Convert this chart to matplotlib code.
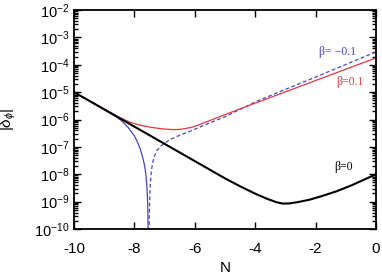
import numpy as np
import matplotlib
matplotlib.use("Agg")
import matplotlib.pyplot as plt
from matplotlib.ticker import LogLocator, NullFormatter, MultipleLocator

plt.rcParams['font.family'] = 'Liberation Sans'
plt.rcParams['mathtext.fontset'] = 'custom'
plt.rcParams['mathtext.rm'] = 'Liberation Sans'
plt.rcParams['mathtext.it'] = 'Liberation Sans:italic'
plt.rcParams['axes.unicode_minus'] = False

# beta = 0 (log10 |delta_phi|)
n_b0 = [-10, -9, -8, -7, -6, -5, -4.5, -4.0, -3.6, -3.3, -3.1, -2.9, -2.6, -2.2, -1.8,
        -1.3, -0.8, -0.4, 0]
lg_b0 = [-5.0, -5.63, -6.26, -6.89, -7.52, -8.15, -8.44, -8.71, -8.9, -9.02, -9.07,
         -9.07, -9.02, -8.93, -8.8, -8.62, -8.4, -8.2, -8.0]

# beta = 0.1
n_bp = [-10, -9.5, -9, -8.6, -8.4, -8.15, -7.8, -7.48, -7.1, -6.71, -6.5, -6.3, -6.1,
        -5.9, -5.6, -5.3, -4.5, -3, -1.5, 0]
lg_bp = [-5.0, -5.31, -5.62, -5.86, -5.97, -6.10, -6.21, -6.28, -6.34, -6.37, -6.36,
         -6.33, -6.28, -6.21, -6.08, -5.95, -5.61, -4.99, -4.37, -3.75]

# beta = -0.1, before the sign change (solid)
n_bm1 = [-10, -9.5, -9, -8.8, -8.6, -8.4, -8.2, -8.0, -7.9, -7.8, -7.72, -7.66, -7.62,
         -7.59, -7.57, -7.555, -7.545, -7.54]
lg_bm1 = [-5.0, -5.31, -5.62, -5.77, -5.9, -6.07, -6.3, -6.6, -6.82, -7.1, -7.4, -7.7,
          -8.0, -8.4, -8.8, -9.3, -10.2, -11.0]

# beta = -0.1, after the sign change (dashed)
n_bm2 = [-7.52, -7.51, -7.49, -7.47, -7.44, -7.4, -7.35, -7.26, -7.15, -7.04, -6.9,
         -6.75, -6.49, -6.2, -5.94, -5.5, -5.0, -4.0, -3.0, -2.0, -1.0, 0]
lg_bm2 = [-11.0, -9.6, -8.8, -8.3, -7.9, -7.6, -7.38, -7.14, -7.0, -6.89, -6.79, -6.7,
          -6.57, -6.45, -6.33, -6.12, -5.9, -5.36, -4.9, -4.45, -3.99, -3.53]

red = '#e23a3a'
blue = '#4444d4'

fig = plt.figure(figsize=(3.82, 2.75), dpi=100)
ax = fig.add_axes([0.1937, 0.1673, 0.7906, 0.7963])

ax.plot(n_bm1, 10.0 ** np.array(lg_bm1), color=blue, lw=0.9)
ax.plot(n_bm2, 10.0 ** np.array(lg_bm2), color=blue, lw=0.9, ls=(0, (3, 2)))
ax.plot(n_bp, 10.0 ** np.array(lg_bp), color=red, lw=0.9)
ax.plot(n_b0, 10.0 ** np.array(lg_b0), color='black', lw=1.5)

ax.set_yscale('log')
ax.set_xlim(-10, 0)
ax.set_ylim(1e-10, 1e-2)
ax.xaxis.set_major_locator(MultipleLocator(2))
ax.yaxis.set_major_locator(LogLocator(base=10, numticks=20))
ax.yaxis.set_minor_locator(LogLocator(base=10, subs=np.arange(2, 10), numticks=20))
ax.yaxis.set_minor_formatter(NullFormatter())

ax.tick_params(which='both', direction='in', top=True, right=True, width=1.0)
ax.tick_params(axis='y', pad=3, labelsize=10.5)
ax.tick_params(axis='x', pad=9.5, labelsize=11)
ax.tick_params(which='major', length=5)
ax.tick_params(which='minor', length=3)
for s in ax.spines.values():
    s.set_linewidth(1.3)

ax.set_xlabel('N', fontsize=11)
ax.set_ylabel(r'$|\delta_\phi|$', fontsize=11)
ax.xaxis.set_label_coords(0.5, -0.145)
ax.yaxis.set_label_coords(-0.185, 0.5)

ax.text(-1.29, 10 ** -3.52, 'β= −0.1', color=blue, fontsize=8.5, ha='center',
        va='center', family='Liberation Serif')
ax.text(-0.86, 10 ** -4.62, 'β=0.1', color=red, fontsize=8.5, ha='center',
        va='center', family='Liberation Serif')
ax.text(-1.09, 10 ** -7.74, 'β=0', color='black', fontsize=8.5, ha='center',
        va='center', family='Liberation Serif')

fig.savefig('out.png', dpi=100)
